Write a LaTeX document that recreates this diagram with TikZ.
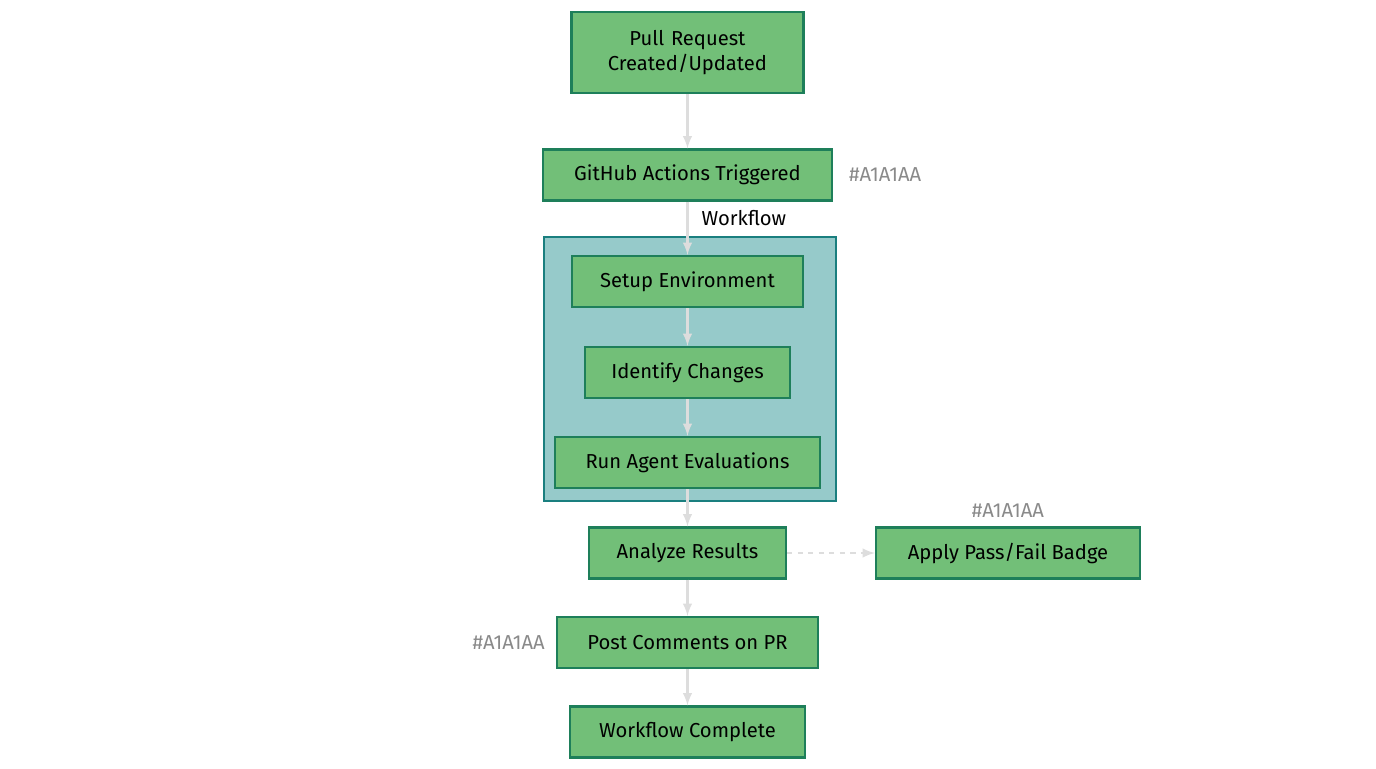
\documentclass[tikz,border=0pt]{standalone}
\usepackage{fontspec}
\setmainfont{Fira Sans}
\usetikzlibrary{positioning, backgrounds}
\definecolor{stepfill}{HTML}{72BF78}
\definecolor{stepdraw}{HTML}{1E7F5A}
\definecolor{clusterfill}{HTML}{96CACA}
\definecolor{clusterdraw}{HTML}{1A7F7F}
\definecolor{linkgray}{HTML}{DDDDDD}
\definecolor{notegray}{HTML}{8A8A8A}
\tikzset{
	stage/.style={draw=stepdraw, line width=1.2pt, rectangle, fill=stepfill, inner sep=2pt, text centered, font=\fontsize{11.5}{14}\selectfont, minimum height=1.02cm},
	note/.style={text=notegray, font=\fontsize{11.5}{14}\selectfont},
	link/.style={draw=linkgray, line width=1.4pt, ->, >=latex},
}

\begin{document}
\begin{tikzpicture}[x=0.02cm, y=-0.02cm]
		\useasboundingbox (0,0) rectangle (1376,768);
		
		\node (cluster) [draw=clusterdraw, line width=1.2pt, fill=clusterfill, minimum width=5.84cm, minimum height=5.28cm] at (690,369) {};
		
		\node (pr) [stage, text width=4.5cm, minimum height=1.62cm] at (687.5,52.5) {Pull Request\\Created/Updated};
		\node (gh) [stage, minimum width=5.78cm] at (687.5,175) {GitHub Actions Triggered};
		\node (setup) [stage, minimum width=4.62cm] at (687.5,281.5) {Setup Environment};
		\node (ident) [stage, minimum width=4.1cm] at (687.5,372.5) {Identify Changes};
		\node (run) [stage, minimum width=5.3cm] at (687.5,462.5) {Run Agent Evaluations};
		\node (analyze) [stage, minimum width=3.94cm] at (687.5,553) {Analyze Results};
		\node (badge) [stage, minimum width=5.28cm] at (1008,553) {Apply Pass/Fail Badge};
		\node (post) [stage, minimum width=5.22cm] at (687.5,642.5) {Post Comments on PR};
		\node (done) [stage, minimum width=4.7cm] at (687.5,732) {Workflow Complete};
		
		\node (ghnote) [note, right=0.2cm of gh] {\#A1A1AA};
		\node (badgenote) [note, above=0.05cm of badge] {\#A1A1AA};
		\node (postnote) [note, left=0.1cm of post] {\#A1A1AA};
		
		\draw [link] (pr) -- (gh);
		\draw [link] (gh) -- (setup) node [pos=0.3, right, xshift=4pt, font=\fontsize{11.5}{14}\selectfont] {Workflow};
		\draw [link] (setup) -- (ident);
		\draw [link] (ident) -- (run);
		\draw [link] (run) -- (analyze);
		\draw [link, dashed] (analyze) -- (badge);
		\draw [link] (analyze) -- (post);
		\draw [link] (post) -- (done);
	\end{tikzpicture}
\end{document}
